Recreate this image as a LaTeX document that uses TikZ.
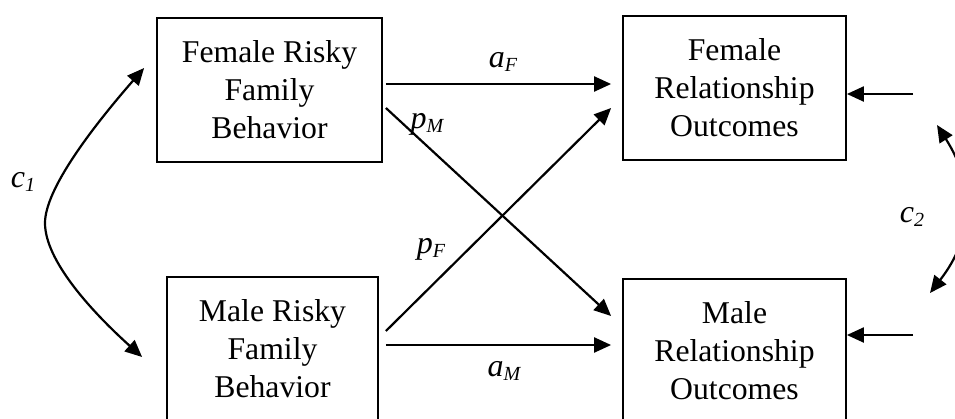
\documentclass[tikz,border=0pt]{standalone}
\usepackage{fontspec}
\setmainfont{Liberation Serif}
\usetikzlibrary{arrows.meta}
\newcommand{\lbl}[2]{\itshape #1\raisebox{-4pt}{\fontsize{20}{20}\selectfont #2}}
\tikzset{
  box/.style={draw, line width=1.8pt, align=center, inner sep=0pt,
    font=\fontsize{31.7}{38}\selectfont},
  tip/.style={Triangle[length=17pt,width=15pt]},
  arr/.style={line width=2.2pt, -{Triangle[length=17pt,width=15pt]}},
  dbl/.style={line width=2.2pt, {Triangle[length=17pt,width=15pt]}-{Triangle[length=17pt,width=15pt]}},
  lab/.style={anchor=base, inner sep=0pt, font=\fontsize{32}{38}\selectfont}
}
\begin{document}
\begin{tikzpicture}[x=1pt,y=-1pt]
\useasboundingbox (0,0) rectangle (955,418);
\node[box, minimum width=225pt, minimum height=144pt] (FR) at (269.5,90) {Female Risky\\Family\\Behavior};
\node[box, minimum width=211pt, minimum height=144pt] (MR) at (272.5,349) {Male Risky\\Family\\Behavior};
\node[box, minimum width=223pt, minimum height=144pt] (FO) at (734.5,88) {Female\\Relationship\\Outcomes};
\node[box, minimum width=223pt, minimum height=144pt] (MO) at (734.5,351) {Male\\Relationship\\Outcomes};
\coordinate (inF) at (913,94);
\coordinate (inM) at (913,335);
% paths
\draw[arr] ([xshift=3pt,yshift=6pt]FR.east) -- ([xshift=-11pt,yshift=4pt]FO.west);
\draw[arr] ([xshift=3pt,yshift=-18pt]FR.east) -- ([xshift=-11pt,yshift=35pt]MO.west);
\draw[arr] ([xshift=7pt,yshift=18pt]MR.east) -- ([xshift=-11pt,yshift=-20pt]FO.west);
\draw[arr] ([xshift=7pt,yshift=4pt]MR.east) -- ([xshift=-11pt,yshift=6pt]MO.west);
\draw[arr] (inF) -- ([yshift=-6pt]FO.east);
\draw[arr] (inM) -- ([yshift=16pt]MO.east);
% covariances
\draw[dbl] ([xshift=-12pt,yshift=22pt]FR.west) .. controls (90,130) and (45,190) .. (45,223)
   .. controls (45,260) and (90,310) .. ([xshift=-24pt,yshift=-8pt]MR.west);
\draw[dbl] ([xshift=202.5pt,yshift=-37pt]FO.center) .. controls (975,185) and (975,235) .. ([xshift=195.5pt,yshift=58pt]MO.center);
% labels
\node[lab] (laF) at (503,67) {\lbl{a}{F}};
\node[lab] (lpM) at (427,128) {\lbl{p}{M}};
\node[lab] (lpF) at (431,253) {\lbl{p}{F}};
\node[lab] (laM) at (504,376) {\lbl{a}{M}};
\node[lab] (lc1) at (23,187) {\lbl{c}{1}};
\node[lab] (lc2) at (912,222) {\lbl{c}{2}};
\end{tikzpicture}
\end{document}
